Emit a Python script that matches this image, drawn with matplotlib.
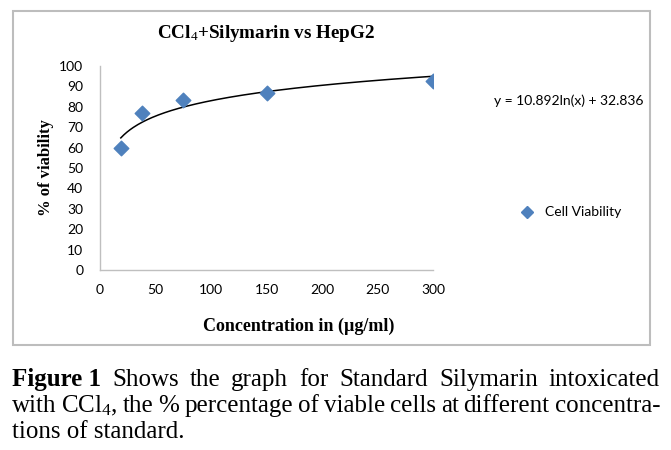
import numpy as np
import matplotlib
matplotlib.use("Agg")
import matplotlib.pyplot as plt
from matplotlib.patches import Rectangle

# data
conc = [18.75, 37.5, 75, 150, 300]
viability = [60, 77, 83.3, 87, 92.6]
# log trendline shown on the chart: y = a ln(x) + b
trend_a = 10.892
trend_b = 32.836
y_ticks = list(range(0, 101, 10))
x_ticks = list(range(0, 301, 50))

plt.rcParams['mathtext.fontset'] = 'custom'
plt.rcParams['mathtext.rm'] = 'Liberation Serif'
plt.rcParams['mathtext.it'] = 'Liberation Serif:italic'
plt.rcParams['mathtext.bf'] = 'Liberation Serif:bold'

W, H = 671, 450
fig = plt.figure(figsize=(W / 100, H / 100), dpi=100)
fig.patch.set_facecolor('white')

#chart box border
fig.patches.append(Rectangle((13 / W, 1 - 345 / H), (650 - 13) / W, (345 - 11) / H,
                             transform=fig.transFigure, fill=False,
                             edgecolor='#bdbdbd', linewidth=1.5))

ax = fig.add_axes([100 / W, 1 - 270 / H, (433 - 100) / W, (270 - 66) / H])
ax.scatter(conc, viability, marker='D', s=55, color='#4f81bd', zorder=3, label='Cell Viability')
xs = np.linspace(min(conc), max(conc), 200)
ax.plot(xs, trend_a * np.log(xs) + trend_b, color='black', lw=1.1, zorder=2)

ax.set_xlim(0, 300)
ax.set_ylim(0, 100)
ax.set_xticks(x_ticks)
ax.set_yticks(y_ticks)
ax.tick_params(length=0, labelsize=10)
ax.tick_params(axis='y', pad=12)
ax.tick_params(axis='x', pad=10)
for lab in ax.get_xticklabels() + ax.get_yticklabels():
    lab.set_fontfamily('Lato')
for s in ['top', 'right']:
    ax.spines[s].set_visible(False)
for s in ['left', 'bottom']:
    ax.spines[s].set_color('#bfbfbf')
    ax.spines[s].set_linewidth(1.0)

fig.text(157 / W, 1 - 34 / H, 'CCl$_4$+Silymarin vs HepG2', ha='left', va='center',
         family='Liberation Serif', weight='bold', fontsize=13.8)
fig.text(46 / W, 1 - 168 / H, '% of viability', ha='center', va='center', rotation=90,
         family='Liberation Serif', weight='bold', fontsize=12)
fig.text(203 / W, 1 - 326 / H, 'Concentration in (µg/ml)', ha='left', va='center',
         family='Liberation Serif', weight='bold', fontsize=13)

fig.text(569 / W, 1 - 101 / H, 'y = 10.892ln(x) + 32.836', ha='center', va='center',
         family='Lato', fontsize=10)

# legend drawn by hand at its spot on the right
fig.lines.append(plt.Line2D([527 / W], [1 - 212 / H], marker='D', ms=6.5, color='#4f81bd',
                            transform=fig.transFigure))
fig.text(545 / W, 1 - 212 / H, 'Cell Viability', ha='left', va='center',
         family='Lato', fontsize=10)

# caption, first two lines justified
renderer = fig.canvas.get_renderer()
cap_size = 18


def justify(words, y, x0, x1):
    texts = []
    for w, wt in words:
        t = fig.text(0, y, w, ha='left', va='baseline', family='Liberation Serif',
                     weight=wt, fontsize=cap_size)
        texts.append(t)
    widths = [t.get_window_extent(renderer).width for t in texts]
    gap = (x1 - x0 - sum(widths)) / (len(texts) - 1)
    x = x0
    for t, wd in zip(texts, widths):
        t.set_x(x / W)
        x += wd + gap


line1 = [('Figure 1', 'bold')] + [(w, 'normal') for w in
                                  'Shows the graph for Standard Silymarin intoxicated'.split()]
justify(line1, 1 - 386 / H, 12, 660)
line2 = [(w, 'normal') for w in
         'with CCl$_4$, the % percentage of viable cells at different concentra-'.split()]
justify(line2, 1 - 412 / H, 12, 660)
fig.text(12 / W, 1 - 438 / H, 'tions of standard.', ha='left', va='baseline',
         family='Liberation Serif', fontsize=cap_size)

fig.savefig('out.png', dpi=100)
